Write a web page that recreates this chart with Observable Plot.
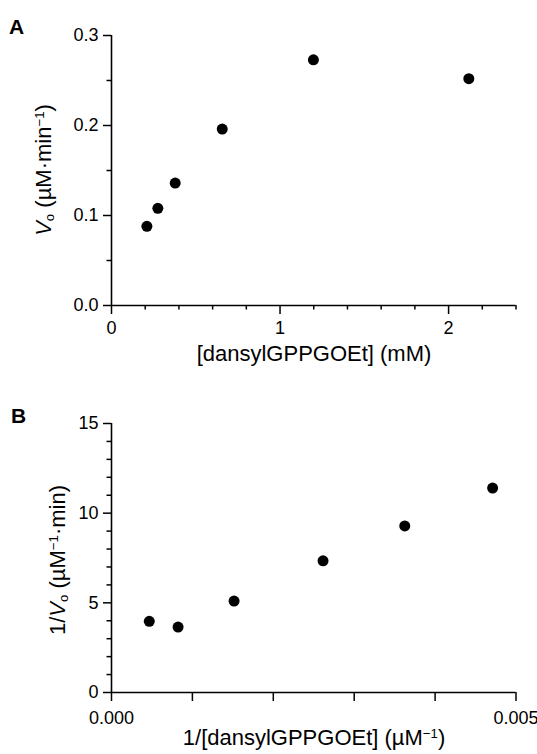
<!DOCTYPE html>
<html>
<head>
<meta charset="utf-8">
<script src="https://cdn.jsdelivr.net/npm/d3@7"></script>
<script src="https://cdn.jsdelivr.net/npm/@observablehq/plot@0.6"></script>
<style>
  html, body { margin: 0; padding: 0; background: #fff; }
  #wrap { width: 537px; }
  svg { display: block; }
</style>
</head>
<body>
<div id="wrap"></div>
<script>
// Panel A: Michaelis-Menten
const concA = [0.21, 0.275, 0.378, 0.657, 1.198, 2.12];          // mM
const rateA = [0.088, 0.108, 0.136, 0.196, 0.273, 0.252];        // µM·min-1
const xTicksA = [0, 1, 2];
const xMinorA = [0.2, 0.4, 0.6, 0.8, 1.2, 1.4, 1.6, 1.8, 2.2, 2.4];
const yTicksA = [0, 0.1, 0.2, 0.3];
const yMinorA = [0.05, 0.15, 0.25];

// Panel B: Lineweaver-Burk
const invConcB = [0.000467, 0.000823, 0.001515, 0.002615, 0.003625, 0.004711]; // µM-1
const invRateB = [3.97, 3.65, 5.10, 7.34, 9.29, 11.40];                         // µM-1·min
const xTicksB = [0, 0.001, 0.002, 0.003, 0.004, 0.005];
const xLabelsB = {0: "0.000", 0.005: "0.005"};
const yTicksB = [0, 5, 10, 15];
const yMinorB = [1, 2, 3, 4, 6, 7, 8, 9, 11, 12, 13, 14];

const FONT = "Liberation Sans, Arial, Helvetica, sans-serif";
const dataA = concA.map((x, i) => ({x, y: rateA[i]}));
const dataB = invConcB.map((x, i) => ({x, y: invRateB[i]}));

function panel(opts) {
  const {data, xDomain, yDomain, xTicks, xMinor, yTicks, yMinor, xFmt, yFmt, height, mt, mb, xPad} = opts;
  const marks = [
    Plot.axisX(xTicks, {tickSize: 9, tickPadding: xPad, tickFormat: xFmt, label: null, fontSize: 18, strokeWidth: 1.5}),
    Plot.axisY(yTicks, {tickSize: 8, tickPadding: 5, tickFormat: yFmt, label: null, fontSize: 18, strokeWidth: 1.5}),
    Plot.ruleX([xDomain[0]], {strokeWidth: 1.6}),
    Plot.ruleY([yDomain[0]], {strokeWidth: 1.6}),
    Plot.dot(data, {x: "x", y: "y", r: 5.5, fill: "black", stroke: "none"})
  ];
  if (xMinor) marks.unshift(Plot.axisX(xMinor, {tickSize: 4.5, tickFormat: () => "", label: null, strokeWidth: 1.5}));
  if (yMinor) marks.unshift(Plot.axisY(yMinor, {tickSize: 4.5, tickFormat: () => "", label: null, strokeWidth: 1.5}));
  return Plot.plot({
    width: 537,
    height,
    marginLeft: 111,
    marginRight: 21.5,
    marginTop: mt,
    marginBottom: mb,
    style: {fontFamily: FONT, color: "black", background: "white", overflow: "visible"},
    x: {domain: xDomain},
    y: {domain: yDomain},
    marks
  });
}

const svgA = panel({
  data: dataA, xDomain: [0, 2.4], yDomain: [0, 0.3],
  xTicks: xTicksA, xMinor: xMinorA, yTicks: yTicksA, yMinor: yMinorA,
  xFmt: d3.format("d"), yFmt: d3.format(".1f"),
  height: 377, mt: 35, mb: 72, xPad: 7
});
const svgB = panel({
  data: dataB, xDomain: [0, 0.005], yDomain: [0, 15],
  xTicks: xTicksB, xMinor: null, yTicks: yTicksB, yMinor: yMinorB,
  xFmt: d => xLabelsB[d] ?? "", yFmt: d3.format("d"),
  height: 377, mt: 46, mb: 62, xPad: 10
});
document.getElementById("wrap").append(svgA, svgB);

function addText(svg, x, y, parts, {rotate = false, size = 22, weight = "normal", anchor = "middle"} = {}) {
  const t = d3.select(svg).append("text")
    .attr("font-family", FONT)
    .attr("font-size", size)
    .attr("font-weight", weight)
    .attr("fill", "black")
    .attr("text-anchor", anchor)
    .attr("transform", rotate ? `translate(${x},${y}) rotate(-90)` : `translate(${x},${y})`);
  for (const p of parts) {
    const s = t.append("tspan").text(p.t);
    if (p.italic) s.attr("font-style", "italic");
    if (p.sub) s.attr("font-size", size * 0.6).attr("baseline-shift", "-25%");
    if (p.sup) s.attr("font-size", size * 0.6).attr("baseline-shift", "55%");
  }
  return t;
}

// panel letters
addText(svgA, 9, 34, [{t: "A"}], {size: 21, weight: "bold", anchor: "start"});
addText(svgB, 11, 46, [{t: "B"}], {size: 21, weight: "bold", anchor: "start"});

// panel A labels
addText(svgA, 314, 361, [{t: "[dansylGPPGOEt] (mM)"}]);
addText(svgA, 51, 170, [
  {t: "V", italic: true}, {t: "o", sub: true}, {t: " (µM·min"}, {t: "−1", sup: true}, {t: ")"}
], {rotate: true});

// panel B labels
addText(svgB, 314, 368, [{t: "1/[dansylGPPGOEt] (µM"}, {t: "−1", sup: true}, {t: ")"}]);
addText(svgB, 65, 183, [
  {t: "1/"}, {t: "V", italic: true}, {t: "o", sub: true}, {t: " (µM"}, {t: "−1", sup: true}, {t: "·min)"}
], {rotate: true});
</script>
</body>
</html>
